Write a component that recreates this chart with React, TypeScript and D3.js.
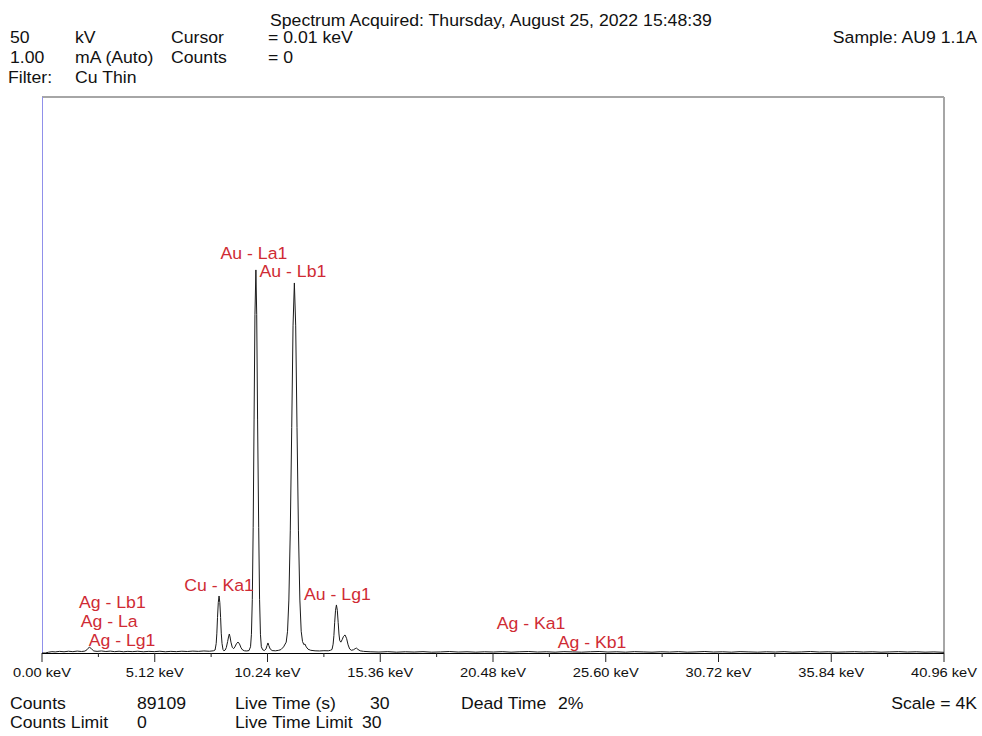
import React from "react";
import * as d3 from "d3";

// ---------- data ----------
const spectrumEnergy = [
  0.0, 0.15, 0.3, 0.45, 0.6, 0.8, 1.0, 1.2, 1.4, 1.6, 1.8, 1.95, 2.05, 2.15, 2.25, 2.35, 2.5, 2.7, 2.9, 3.1,
  3.3, 3.5, 3.7, 3.9, 4.1, 4.35, 4.6, 4.85, 5.1, 5.35, 5.6, 5.85, 6.1, 6.35, 6.6, 6.85, 7.1, 7.35, 7.6, 7.78,
  7.86, 7.91, 7.94, 7.97, 8.005, 8.04, 8.075, 8.11, 8.14, 8.175, 8.22, 8.26,
  8.32, 8.37, 8.43, 8.47, 8.506, 8.54, 8.58, 8.64,
  8.7, 8.76, 8.83, 8.9, 8.97, 9.04, 9.11, 9.2, 9.3, 9.4,
  9.47, 9.51, 9.55, 9.59, 9.63, 9.67, 9.713, 9.75, 9.79, 9.84, 9.88, 9.92, 9.96, 10.02, 10.1,
  10.17, 10.22, 10.26, 10.3, 10.36, 10.45, 10.6, 10.75, 10.85,
  10.97, 11.09, 11.15, 11.21, 11.275, 11.34, 11.4, 11.46, 11.52, 11.58, 11.645, 11.71, 11.77, 11.83, 11.89,
  11.94, 12.0, 12.08, 12.2, 12.4, 12.6, 12.8, 13.0, 13.1,
  13.17, 13.22, 13.255, 13.29, 13.33, 13.37, 13.41, 13.45, 13.485, 13.52, 13.57,
  13.63, 13.69, 13.76, 13.83, 13.9, 13.97, 14.05, 14.15, 14.22, 14.28, 14.35, 14.45, 14.6,
  14.9, 15.3, 15.7, 16.1, 16.5, 16.9, 17.3, 17.7, 18.1, 18.5, 18.9, 19.3, 19.7, 20.1, 20.5, 20.9, 21.3, 21.7,
  22.1, 22.5, 22.9, 23.3, 23.7, 24.1, 24.5, 24.9, 25.3, 25.7, 26.1, 26.5, 26.9, 27.3, 27.7, 28.1, 28.5, 28.9,
  29.3, 29.7, 30.1, 30.5, 30.9, 31.3, 31.7, 32.1, 32.5, 32.9, 33.3, 33.7, 34.1, 34.5, 34.9, 35.3, 35.7, 36.1,
  36.5, 36.9, 37.3, 37.7, 38.1, 38.5, 38.9, 39.3, 39.7, 40.1, 40.5, 40.96,
];
const spectrumCounts = [
  0, 0, 6, 10, 8, 12, 9, 13, 10, 14, 11, 14, 25, 44, 30, 15, 12, 15, 11, 14,
  10, 13, 9, 12, 10, 13, 9, 12, 10, 13, 9, 12, 10, 13, 11, 14, 12, 15, 13, 16,
  22, 70, 146, 261, 372, 420, 372, 261, 146, 70, 25, 16,
  22, 40, 85, 118, 140, 118, 80, 42,
  32, 45, 68, 81, 66, 38, 22, 16, 15, 18,
  46, 138, 395, 926, 1717, 2492, 2822, 2492, 1717, 926, 395, 138, 46, 24, 18,
  30, 55, 74, 55, 30, 18, 16, 20, 25,
  45, 80, 160, 390, 900, 1660, 2410, 2726, 2410, 1660, 900, 390, 160, 85, 62,
  66, 45, 28, 20, 16, 15, 17, 16, 20,
  26, 65, 128, 223, 315, 354, 315, 223, 140, 92, 80,
  98, 122, 133, 108, 60, 30, 20, 24, 32, 36, 26, 16, 12,
  9, 7, 10, 6, 9, 7, 10, 6, 8, 11, 7, 9, 6, 9, 7, 10, 6, 9,
  11, 7, 9, 6, 10, 8, 6, 9, 11, 7, 9, 6, 10, 8, 6, 9, 7, 10,
  6, 8, 11, 7, 9, 6, 10, 8, 6, 9, 7, 10, 6, 8, 11, 7, 9, 6,
  8, 10, 7, 9, 6, 8, 10, 7, 9, 6, 8, 5,
];

const majorTicks = [0, 5.12, 10.24, 15.36, 20.48, 25.6, 30.72, 35.84, 40.96];
const minorTicks = [2.56, 7.68, 12.8, 17.92, 23.04, 28.16, 33.28, 38.4];

const peakLabels = ["Au - La1", "Au - Lb1", "Cu - Ka1", "Au - Lg1", "Ag - Lb1", "Ag - La", "Ag - Lg1", "Ag - Ka1", "Ag - Kb1"];
const peakLabelEnergy = [8.11, 9.88, 6.46, 11.9, 1.68, 1.76, 2.12, 20.65, 23.42];
const peakLabelCounts = [2905, 2771, 455, 393, 330, 194, 51, 180, 34];

const headerTitle = "Spectrum Acquired: Thursday, August 25, 2022 15:48:39";
const headerCol1 = ["50", "1.00", "Filter:"];
const headerCol2 = ["kV", "mA (Auto)", "Cu Thin"];
const headerCol3 = ["Cursor", "Counts"];
const headerCol4 = ["= 0.01 keV", "= 0"];
const sampleText = "Sample: AU9 1.1A";

const footerCol1 = ["Counts", "Counts Limit"];
const footerCol2 = ["89109", "0"];
const footerCol3 = ["Live Time (s)", "Live Time Limit"];
const footerCol4 = ["30", "30"];
const deadTimeLabel = "Dead Time";
const deadTimeValue = "2%";
const scaleText = "Scale = 4K";
const yMaxCounts = 4096;

// ---------- layout ----------
const W = 982;
const H = 736;
const plot = { left: 42, right: 944, top: 97, bottom: 653 };
const FONT = "Arial, 'Liberation Sans', sans-serif";
const SX = 1.07;
const RED = "#cf2b34";

function T({ x, y, children, size = 16.5, anchor = "start", fill = "#111" }: any) {
  return (
    <text
      transform={`translate(${x},${y}) scale(${SX},1)`}
      fontFamily={FONT}
      fontSize={size}
      textAnchor={anchor}
      fill={fill}
    >
      {children}
    </text>
  );
}

export default function App() {
  const x = d3.scaleLinear().domain([0, 40.96]).range([plot.left, plot.right]);
  const y = d3.scaleLinear().domain([0, yMaxCounts]).range([plot.bottom, plot.top]);
  const pts: [number, number][] = spectrumEnergy.map((e, i) => [e, spectrumCounts[i]]);
  const line = d3
    .line<[number, number]>()
    .x((d) => x(d[0]))
    .y((d) => y(d[1]));

  const headerRowsY = [43, 63, 83];
  const footerRowsY = [709, 728];

  return (
    <svg
      width={W}
      height={H}
      style={{ position: "absolute", left: 0, top: 0, background: "#fff" }}
    >
      <rect x={0} y={0} width={W} height={H} fill="#fff" />
      {/* header */}
      <T x={270} y={26}>{headerTitle}</T>
      {headerCol1.map((t, i) => (
        <T key={"h1" + i} x={i === 2 ? 8 : 10} y={headerRowsY[i]}>{t}</T>
      ))}
      {headerCol2.map((t, i) => (
        <T key={"h2" + i} x={75} y={headerRowsY[i]}>{t}</T>
      ))}
      {headerCol3.map((t, i) => (
        <T key={"h3" + i} x={171} y={headerRowsY[i]}>{t}</T>
      ))}
      {headerCol4.map((t, i) => (
        <T key={"h4" + i} x={268} y={headerRowsY[i]}>{t}</T>
      ))}
      <T x={977} y={43} anchor="end">{sampleText}</T>

      {/* frame */}
      <line x1={plot.left} x2={plot.right} y1={plot.top} y2={plot.top} stroke="#a6a6a6" strokeWidth={2} />
      <line x1={plot.right} x2={plot.right} y1={plot.top} y2={plot.bottom} stroke="#a6a6a6" strokeWidth={2} />
      <line x1={plot.left + 0.5} x2={plot.left + 0.5} y1={plot.top} y2={plot.bottom} stroke="#9090ea" strokeWidth={1} />

      {/* spectrum */}
      <path d={line(pts) || ""} fill="none" stroke="#1a1a1a" strokeWidth={1} strokeLinejoin="round" />

      {/* axis */}
      <line x1={plot.left} x2={plot.right} y1={plot.bottom + 0.5} y2={plot.bottom + 0.5} stroke="#000" strokeWidth={1} />
      {majorTicks.map((v) => (
        <line key={"M" + v} x1={x(v)} x2={x(v)} y1={plot.bottom} y2={plot.bottom + 9} stroke="#222" strokeWidth={1} />
      ))}
      {minorTicks.map((v) => (
        <line key={"m" + v} x1={x(v)} x2={x(v)} y1={plot.bottom} y2={plot.bottom + 4} stroke="#222" strokeWidth={1} />
      ))}
      {majorTicks.map((v) => (
        <T key={"l" + v} x={x(v)} y={677} size={13.7} anchor="middle">{`${v.toFixed(2)} keV`}</T>
      ))}

      {/* peak labels */}
      {peakLabels.map((t, i) => (
        <T key={"p" + i} x={x(peakLabelEnergy[i])} y={y(peakLabelCounts[i])} fill={RED}>{t}</T>
      ))}

      {/* footer */}
      {footerCol1.map((t, i) => (
        <T key={"f1" + i} x={10} y={footerRowsY[i]}>{t}</T>
      ))}
      {footerCol2.map((t, i) => (
        <T key={"f2" + i} x={137} y={footerRowsY[i]}>{t}</T>
      ))}
      {footerCol3.map((t, i) => (
        <T key={"f3" + i} x={235} y={footerRowsY[i]}>{t}</T>
      ))}
      {footerCol4.map((t, i) => (
        <T key={"f4" + i} x={i === 0 ? 370 : 362} y={footerRowsY[i]}>{t}</T>
      ))}
      <T x={461} y={709}>{deadTimeLabel}</T>
      <T x={558} y={709}>{deadTimeValue}</T>
      <T x={977} y={709} anchor="end">{scaleText}</T>
    </svg>
  );
}
